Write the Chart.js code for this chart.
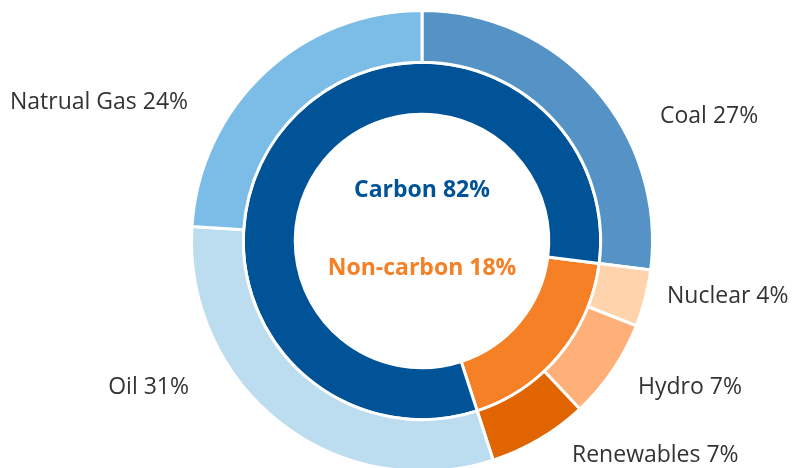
<!DOCTYPE html>
<html>
<head>
<meta charset="utf-8">
<script src="https://cdn.jsdelivr.net/npm/chart.js@4.4.0/dist/chart.umd.min.js"></script>
<style>
  html, body { margin: 0; padding: 0; background: #ffffff; overflow: hidden; }
  #wrap { width: 793px; height: 468px; overflow: hidden; }
  canvas { display: block; }
</style>
</head>
<body>
<div id="wrap"><canvas id="c" width="793" height="484"></canvas></div>
<script>
// ---- data ----
const sourceLabels = ["Coal", "Nuclear", "Hydro", "Renewables", "Oil", "Natrual Gas"];
const sourceValues = [27, 4, 7, 7, 31, 24];
const groupLabels = ["Non-carbon", "Carbon"];
const groupValues = [18, 82];

// ---- styles ----
const sourceColors = ["#5593c7", "#ffd3ab", "#ffb078", "#e06500", "#bcdcef", "#7bbde6"];
const groupColors = ["#f58025", "#005396"];
const groupTextColors = { "Carbon": "#005396", "Non-carbon": "#f58025" };

// label anchors (text layout only)
const labelLayout = {
  "Coal":        { x: 660, y: 116, align: "left" },
  "Nuclear":     { x: 667, y: 296, align: "left" },
  "Hydro":       { x: 638, y: 387, align: "left" },
  "Renewables":  { x: 572, y: 455, align: "left" },
  "Oil":         { x: 189, y: 387, align: "right" },
  "Natrual Gas": { x: 10,  y: 102, align: "left" }
};

// rotation of inner ring so that non-carbon starts where Coal ends
const innerRotation = sourceValues[0] / sourceValues.reduce((a, b) => a + b, 0) * 360;

const labelPlugin = {
  id: "labels",
  afterDraw(chart) {
    const ctx = chart.ctx;
    ctx.save();
    ctx.textBaseline = "middle";
    ctx.font = "23px 'Open Sans'";
    ctx.fillStyle = "#333333";
    sourceLabels.forEach((lab, i) => {
      const L = labelLayout[lab];
      ctx.textAlign = L.align;
      ctx.fillText(lab + " " + sourceValues[i] + "%", L.x, L.y);
    });
    const meta = chart.getDatasetMeta(0);
    const arc = meta.data[0];
    const cx = arc.x, cy = arc.y;
    ctx.textAlign = "center";
    ctx.font = "bold 23px 'Open Sans'";
    ctx.fillStyle = groupTextColors["Carbon"];
    ctx.fillText("Carbon " + groupValues[1] + "%", cx, cy - 51);
    ctx.fillStyle = groupTextColors["Non-carbon"];
    ctx.fillText("Non-carbon " + groupValues[0] + "%", cx, cy + 27);
    ctx.restore();
  }
};

new Chart(document.getElementById("c"), {
  type: "doughnut",
  data: {
    labels: sourceLabels,
    datasets: [
      {
        data: sourceValues,
        backgroundColor: sourceColors,
        borderColor: "#ffffff",
        borderWidth: 3,
        rotation: 0
      },
      {
        data: groupValues,
        backgroundColor: groupColors,
        borderColor: "#ffffff",
        borderWidth: 3,
        rotation: innerRotation
      }
    ]
  },
  options: {
    responsive: false,
    animation: false,
    cutout: "55%",
    layout: { padding: { left: 190, right: 139, top: 9, bottom: 11 } },
    plugins: { legend: { display: false }, tooltip: { enabled: false } }
  },
  plugins: [labelPlugin]
});
</script>
</body>
</html>
